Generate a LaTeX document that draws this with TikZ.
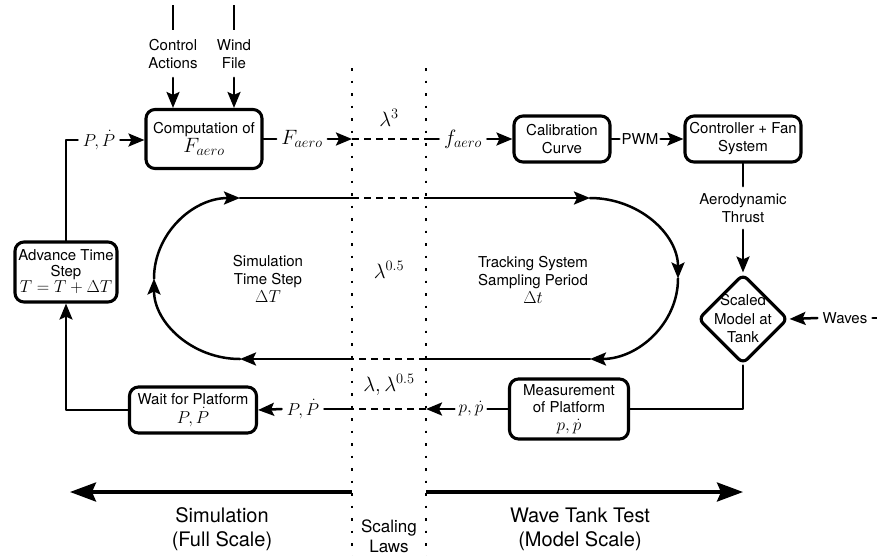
\documentclass[tikz,border=0pt]{standalone}
\usepackage{fontspec}
\setmainfont{TeX Gyre Heros}
\usetikzlibrary{arrows.meta,shapes.geometric}
\newcommand{\mfont}{\fontsize{18}{20}\selectfont}
\newcommand{\lfont}{\fontsize{20}{22}\selectfont}
\tikzset{
  blk/.style={draw, rounded corners=9pt, line width=3.1pt, align=center, inner sep=2pt, font=\fontsize{15}{18}\selectfont},
  lbl/.style={inner sep=3pt, align=center, font=\fontsize{15}{18}\selectfont},
  mlbl/.style={inner sep=4pt, font=\mfont},
  sclline/.style={line width=2.5pt, line cap=butt, dash pattern=on 2.5pt off 10pt},
  lnk/.style={line cap=butt, dash pattern=on 7pt off 5pt},
  bigarr/.style={line width=3.5pt, line cap=butt, -{Stealth[length=26pt,width=19pt,inset=4pt]}},
}
\begin{document}
\begin{tikzpicture}[x=1pt, y=-1pt, line width=2.5pt, >={Stealth[length=16pt,width=13pt,inset=3pt]}, line join=round, line cap=round]
\useasboundingbox (0,0) rectangle (877,555);
% scaling laws
\coordinate (sl1t) at (352,68); \coordinate (sl1b) at (352,560);
\coordinate (sl2t) at (426,68); \coordinate (sl2b) at (426,560);
\draw[sclline] (sl1t) -- (sl1b);
\draw[sclline] (sl2t) -- (sl2b);
% simulation side
\node[blk, minimum width=116, minimum height=59] (comp) at (204,139) {Computation of\\[1pt]{\lfont$F_{aero}$}};
\node[blk, minimum width=102, minimum height=60] (adv) at (66,272) {Advance Time\\[-2pt]Step\\[-2pt]{\mfont$T=T+\Delta T$}};
\node[blk, minimum width=127, minimum height=46] (wait) at (193,410) {Wait for Platform\\[1pt]{\mfont$P,\dot P$}};
\node[lbl, inner sep=8pt] (ctl) at (173,54) {Control\\Actions};
\node[lbl, inner sep=8pt] (wind) at (234,54) {Wind\\File};
\coordinate (ctltop) at (173,5); \coordinate (windtop) at (234,5);
\draw[line cap=butt, line width=2.8pt] (ctltop) -- (ctl.north);
\draw[line cap=butt, line width=2.8pt] (windtop) -- (wind.north);
\draw[->] (ctl.south) -- (ctl.south |- comp.north);
\draw[->] (wind.south) -- (wind.south |- comp.north);
\node[mlbl, font=\fontsize{16}{18}\selectfont] (Pin) at (99,140) {$P,\dot P$};
\draw (adv.north) |- (Pin.west);
\draw[->] (Pin.east) -- (comp.west |- Pin.east);
\node[mlbl, font=\lfont] (Fout) at (302,139) {$F_{aero}$};
\node[mlbl, font=\lfont] (lam3) at (389,118) {$\lambda^3$};
% wave tank side
\node[blk, minimum width=96, minimum height=46] (cal) at (562,139) {Calibration\\Curve};
\node[blk, minimum width=116, minimum height=46] (ctrl) at (743,139) {Controller + Fan\\System};
\node[mlbl, font=\lfont] (fin) at (463,139) {$f_{aero}$};
\node[lbl, inner sep=1pt] (pwm) at (640,139) {PWM};
\node[lbl, inner sep=6pt] (thr) at (743,208) {Aerodynamic\\Thrust};
\node[draw, diamond, aspect=1, rounded corners=6pt, line width=3.1pt, minimum width=90, minimum height=90, inner sep=0pt] (tank) at (743,319) {};
\node[lbl, font=\fontsize{15}{18.5}\selectfont] (tanktxt) at (tank) {Scaled\\Model at\\Tank};
\node[lbl, inner sep=4pt] (wv) at (845,318) {Waves};
\coordinate (wvin) at (885,318);
\node[blk, minimum width=119, minimum height=60] (meas) at (569,409) {Measurement\\[-1pt]of Platform\\[0pt]{\mfont$p,\dot p$}};
\node[mlbl, inner sep=3pt] (pout) at (471,409) {$p,\dot p$};
\node[mlbl, font=\lfont] (lam1) at (389,385) {$\lambda,\lambda^{0.5}$};
\node[mlbl, font=\fontsize{16}{18}\selectfont] (Pout) at (303,409) {$P,\dot P$};
% forward chain
\coordinate (x1a) at (352,139); \coordinate (x2a) at (426,139);
\draw (comp.east) -- (Fout.west);
\draw[->] (Fout.east) -- (x1a);
\draw[lnk] (x1a) -- (x2a);
\draw (x2a) -- (fin.west);
\draw[->] (fin.east) -- (cal.west);
\draw (cal.east) -- (pwm.west);
\draw[->] (pwm.east) -- (ctrl.west);
\draw (ctrl.south) -- (thr.north);
\draw[->] (thr.south) -- (tank.north);
\draw (wvin) -- (wv.east);
\draw[->] (wv.west) -- (tank.east);
% feedback chain
\coordinate (x2b) at (426,409); \coordinate (x1b) at (352,409);
\draw (tank.south) |- (meas.east);
\draw (meas.west) -- (pout.east);
\draw[->] (pout.west) -- (x2b);
\draw[lnk] (x2b) -- (x1b);
\draw (x1b) -- (Pout.east);
\draw[->] (Pout.west) -- (wait.east);
\draw[->] (wait.west) -| (adv.south);
% time step loop
\coordinate (ovtl) at (240,198); \coordinate (ovbl) at (240,359); \coordinate (ovl) at (154,278.5);
\coordinate (ovtr) at (590,198); \coordinate (ovbr) at (590,359); \coordinate (ovr) at (678,278.5);
\coordinate (x1c) at (352,198); \coordinate (x2c) at (426,198);
\coordinate (x1d) at (352,359); \coordinate (x2d) at (426,359);
\draw[->] (ovbl) arc[start angle=90, end angle=180, x radius=86, y radius=80.5];
\draw[->] (ovl) arc[start angle=180, end angle=270, x radius=86, y radius=80.5];
\draw (ovtl) -- (x1c);
\draw[lnk] (x1c) -- (x2c);
\draw[->] (x2c) -- (ovtr);
\draw[->] (ovtr) arc[start angle=-90, end angle=0, x radius=88, y radius=80.5];
\draw[->] (ovr) arc[start angle=0, end angle=90, x radius=88, y radius=80.5];
\draw (ovbr) -- (x2d);
\draw[lnk] (x2d) -- (x1d);
\draw[->] (x1d) -- (ovbl);
\node[lbl] (simts) at (268,279) {Simulation\\Time Step\\{\mfont$\Delta T$}};
\node[mlbl, font=\lfont] (lam05) at (389,270) {$\lambda^{0.5}$};
\node[lbl] (trk) at (533,280) {Tracking System\\Sampling Period\\{\mfont$\Delta t$}};
% scale arrows
\coordinate (x1e) at (352,492); \coordinate (x2e) at (426,492);
\coordinate (simend) at (70,492); \coordinate (tankend) at (743,492);
\draw[bigarr] (x1e) -- (simend);
\draw[bigarr] (x2e) -- (tankend);
\node[lbl, font=\fontsize{20}{24}\selectfont] (simlbl) at (222,529) {Simulation\\(Full Scale)};
\node[lbl, font=\fontsize{20}{24}\selectfont] (tanklbl) at (580,529) {Wave Tank Test\\(Model Scale)};
\node[lbl, font=\fontsize{17}{20}\selectfont] (scllbl) at (389,536) {Scaling\\Laws};
\end{tikzpicture}
\end{document}
